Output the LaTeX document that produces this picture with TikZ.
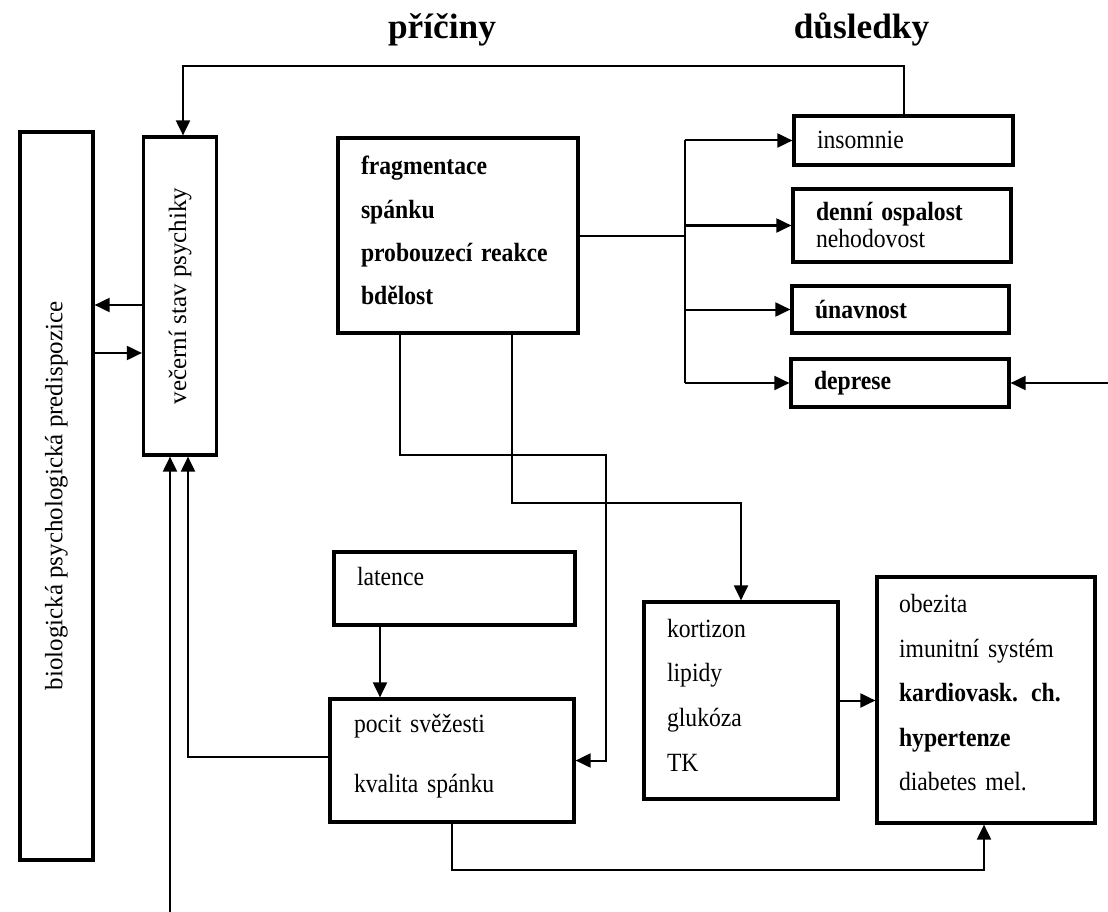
\documentclass[tikz,border=0pt]{standalone}
\usepackage{fontspec}
\setmainfont{Liberation Serif}[FakeStretch=0.9, WordSpace=0.6]
\newfontfamily\plainfont{Liberation Serif}
\usetikzlibrary{arrows.meta}
\begin{document}
\begin{tikzpicture}[x=1pt,y=-1pt,
  box/.style={draw, line width=3.2pt, inner sep=0pt, align=left},
  conn/.style={line width=2pt},
  arr/.style={conn, -{Triangle[length=15pt,width=14pt]}},
  f/.style={font=\fontsize{26.3}{#1}\selectfont},
  rot/.style={font=\plainfont\fontsize{25}{30}\selectfont},
  title/.style={font=\plainfont\fontsize{35.3}{40}\selectfont\bfseries, anchor=base},
  tpos/.style={text height=18pt, text depth=#1},
]
\useasboundingbox[fill=white] (0,0) rectangle (1108,912);

% titles
\node[title] (pric) at (442,39) {příčiny};
\node[title] (dus) at (861.5,39) {důsledky};

% boxes
\node[box, rot, minimum width=73pt, minimum height=728pt] (bio) at (56.5,496) {\rotatebox{90}{biologická psychologická predispozice}};
\node[box, rot, minimum width=73pt, minimum height=318pt] (vec) at (180,296) {\rotatebox{90}{večerní stav psychiky}};

\node[box, inner xsep=23pt, text width=194pt, minimum height=195pt, tpos=139pt, f=43.3] (frag) at (458,235.5) {\textbf{fragmentace}\\\textbf{spánku}\\\textbf{probouzecí reakce}\\\textbf{bdělost}};

\node[box, inner xsep=23pt, text width=173pt, minimum height=49pt, tpos=1pt, f=27] (ins) at (903.5,140.5) {insomnie};
\node[box, inner xsep=23pt, text width=172pt, minimum height=73pt, tpos=27.6pt, f=27] (den) at (902,225.5) {\textbf{denní ospalost}\\nehodovost};
\node[box, inner xsep=23pt, text width=171pt, minimum height=47pt, f=27] (una) at (900.5,309.5) {\textbf{únavnost}};
\node[box, inner xsep=23pt, text width=172pt, minimum height=48pt, f=27] (dep) at (900,383) {\textbf{deprese}};

\node[box, inner xsep=23pt, text width=195pt, minimum height=73pt, tpos=25pt, f=27] (lat) at (454.5,588.5) {latence};
\node[box, inner xsep=24pt, text width=196pt, minimum height=123pt, tpos=73.6pt, f=60] (poc) at (452,760.5) {pocit svěžesti\\kvalita spánku};
\node[box, inner xsep=23pt, text width=148pt, minimum height=197pt, tpos=145pt, f=44.7] (kort) at (741,700.5) {kortizon\\lipidy\\glukóza\\TK};
\node[box, inner xsep=22pt, text width=174pt, minimum height=246pt, tpos=193pt, f=44.5] (obez) at (986,700) {obezita\\imunitní systém\\\textbf{kardiovask. ch.}\\\textbf{hypertenze}\\diabetes mel.};

% connectors
\coordinate (topy) at (0,66);
\draw[arr] (ins.north) |- ([xshift=3pt]vec.north |- topy) -- ([xshift=3pt]vec.north);

\draw[arr] (vec.west |- 0,305) -- (bio.east |- 0,305);
\draw[arr] (bio.east |- 0,353) -- (vec.west |- 0,353);

\coordinate (botin) at (170,912);
\draw[arr] (botin) -- (botin |- vec.south);
\draw[arr] (poc.west |- 0,757) -| ([xshift=8pt]vec.south);

\coordinate (bus) at (685,0);
\draw[conn] (frag.east) -- (bus |- frag.east);
\draw[conn] (bus |- ins.west) -- (bus |- dep.west);
\draw[arr] (bus |- ins.west) -- (ins.west);
\draw[arr] (bus |- den.west) -- (den.west);
\draw[arr] (bus |- una.west) -- (una.west);
\draw[arr] (bus |- dep.west) -- (dep.west);

\coordinate (redge) at (1108,383);
\draw[arr] (redge) -- (dep.east);

\draw[arr] ([xshift=-58pt]frag.south) |- (606,455) |- (poc.east);
\draw[arr] ([xshift=54pt]frag.south) |- (kort.north |- 0,503) -- (kort.north);

\draw[arr] ([xshift=-74.5pt]lat.south) -- ([xshift=-74.5pt]lat.south |- poc.north);
\draw[arr] (poc.south) |- ([xshift=-2pt]obez.south |- 0,870) -- ([xshift=-2pt]obez.south);
\draw[arr] (kort.east) -- (kort.east -| obez.west);
\end{tikzpicture}
\end{document}
